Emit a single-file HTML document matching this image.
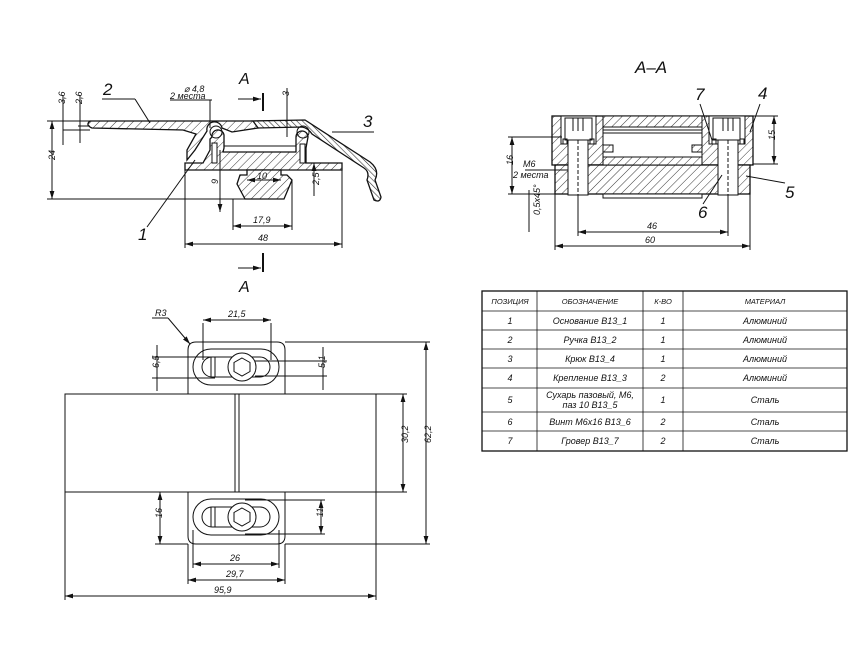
<!DOCTYPE html>
<html><head><meta charset="utf-8"><style>
html,body{margin:0;padding:0;background:#fff}
svg{display:block}
text{font-family:"Liberation Sans",sans-serif;font-style:italic;fill:#111;stroke:none}
</style></head><body>
<svg width="866" height="650" viewBox="0 0 866 650" xmlns="http://www.w3.org/2000/svg">
<defs>
<pattern id="h" width="6" height="6" patternUnits="userSpaceOnUse" patternTransform="rotate(45)"><rect width="6" height="6" fill="#fff"/><line x1="0" y1="0" x2="0" y2="6" stroke="#222" stroke-width="0.9"/></pattern>
<pattern id="h2" width="4" height="4" patternUnits="userSpaceOnUse" patternTransform="rotate(-45)"><rect width="4" height="4" fill="#fff"/><line x1="0" y1="0" x2="0" y2="4" stroke="#333" stroke-width="1.2"/></pattern>
<marker id="a" viewBox="0 0 10 6" refX="10" refY="3" markerWidth="8" markerHeight="5" orient="auto-start-reverse"><path d="M0,0L10,3L0,6z" fill="#111" stroke="none"/></marker>
</defs>
<g stroke="#111" stroke-width="1" fill="none">

<!-- ===== SIDE VIEW ===== -->
<path d="M252,121 L305,120 L370,162 Q380,170 375,180 L381,197 Q380,203 374,200 L367,180 Q370,172 364,168 L312,134 Q308,128 302,127 L258,128 Z" fill="url(#h2)" stroke-width="1.3"/>
<path d="M90,121 L253,121 L258,128 L232,132 L222,128 A7,7 0 0 0 207,131 L195,150 L187,160 L187,150 L196,134 L183,130 L92,128 Q85,125 90,121 Z" fill="url(#h)" stroke-width="1.3"/>
<path d="M185,163 L203,163 L210,150 L210,139 L212,137 A6,6 0 0 1 224,135 L224,148 L223,152 L296,152 L296,137 A6,6 0 0 1 308,137 L306,148 L306,163 L342,163 L342,170 L185,170 Z" fill="url(#h)" stroke-width="1.3"/>
<rect x="212" y="143" width="5" height="20" fill="#fff"/>
<rect x="300" y="144" width="5" height="19" fill="#fff"/>
<circle cx="216" cy="132" r="6"/><circle cx="303" cy="132" r="6"/>
<line x1="224" y1="146" x2="296" y2="146"/>
<path d="M247,170 L281,170 L281,175 L287,175 L292,180 L284,199 L245,199 L237,184 L240,175 L247,175 Z" fill="url(#h)" stroke-width="1.3"/>
<line x1="47" y1="121" x2="90" y2="121"/><line x1="47" y1="199" x2="250" y2="199"/>
<line x1="52" y1="121" x2="52" y2="199" marker-start="url(#a)" marker-end="url(#a)"/>
<text x="50" y="165" font-size="9" transform="rotate(-90 50 160)">24</text>
<line x1="63" y1="130" x2="90" y2="130"/><line x1="78" y1="126" x2="90" y2="126"/>
<line x1="63" y1="95" x2="63" y2="145"/><line x1="80" y1="95" x2="80" y2="143"/>
<text x="61" y="108" font-size="9" transform="rotate(-90 61 104)">3,6</text>
<text x="78" y="108" font-size="9" transform="rotate(-90 78 104)">2,6</text>
<line x1="185" y1="170" x2="185" y2="248"/><line x1="342" y1="170" x2="342" y2="248"/>
<line x1="185" y1="244" x2="342" y2="244" marker-start="url(#a)" marker-end="url(#a)"/>
<text x="258" y="241" font-size="9">48</text>
<line x1="233" y1="199" x2="233" y2="230"/><line x1="292" y1="180" x2="292" y2="230"/>
<line x1="233" y1="226" x2="292" y2="226" marker-start="url(#a)" marker-end="url(#a)"/>
<text x="253" y="223" font-size="9">17,9</text>
<line x1="247" y1="180" x2="281" y2="180" marker-start="url(#a)" marker-end="url(#a)"/>
<text x="257" y="179" font-size="9">10</text>
<line x1="220" y1="150" x2="220" y2="212" marker-end="url(#a)"/>
<text x="214" y="188" font-size="9" transform="rotate(-90 214 184)">9</text>
<line x1="314" y1="163" x2="314" y2="196" marker-start="url(#a)"/>
<text x="312" y="192" font-size="9" transform="rotate(-90 312 185)">2,5</text>
<line x1="287" y1="88" x2="287" y2="137"/>
<text x="285" y="100" font-size="9" transform="rotate(-90 285 96)">3</text>
<line x1="210" y1="100" x2="210" y2="128"/><line x1="170" y1="100" x2="212" y2="100"/>
<text x="184" y="92" font-size="9">⌀ 4,8</text>
<text x="170" y="99" font-size="9">2 места</text>
<line x1="102" y1="99" x2="135" y2="99"/><line x1="135" y1="99" x2="150" y2="123"/>
<text x="103" y="95" font-size="17">2</text>
<line x1="374" y1="132" x2="332" y2="132"/>
<text x="363" y="127" font-size="17">3</text>
<line x1="147" y1="227" x2="195" y2="160"/>
<text x="138" y="240" font-size="17">1</text>
<line x1="263" y1="93" x2="263" y2="111" stroke-width="2"/><line x1="238" y1="99" x2="261" y2="99" marker-end="url(#a)"/>
<text x="239" y="84" font-size="16" font-style="normal">A</text>
<line x1="263" y1="253" x2="263" y2="272" stroke-width="2"/><line x1="238" y1="268" x2="261" y2="268" marker-end="url(#a)"/>
<text x="239" y="292" font-size="16" font-style="normal">A</text>

<!-- ===== SECTION A-A ===== -->
<text x="635" y="73" font-size="17" font-style="normal">A–A</text>
<rect x="552" y="116" width="201" height="49" fill="url(#h)" stroke-width="1.3"/>
<rect x="555" y="165" width="195" height="29" fill="url(#h)" stroke-width="1.3"/>
<rect x="603" y="194" width="99" height="4" fill="#fff"/>
<rect x="603" y="116" width="99" height="49" fill="url(#h)"/>
<path d="M603,127 L702,127 L702,145 L692,145 L692,152 L702,152 L702,157 L603,157 L603,152 L613,152 L613,145 L603,145 Z" fill="#fff"/>
<line x1="603" y1="130" x2="702" y2="130"/><line x1="603" y1="133" x2="702" y2="133"/>
<g fill="#fff">
<rect x="561" y="116" width="35" height="28"/><rect x="709" y="116" width="36" height="28"/>
<rect x="565" y="118" width="27" height="22"/><rect x="713" y="118" width="27" height="22"/>
<rect x="568" y="140" width="20" height="55"/><rect x="718" y="140" width="20" height="55"/>
</g>
<line x1="573" y1="118" x2="573" y2="131"/><line x1="578" y1="118" x2="578" y2="131"/><line x1="583" y1="118" x2="583" y2="131"/>
<line x1="723" y1="118" x2="723" y2="131"/><line x1="728" y1="118" x2="728" y2="131"/><line x1="733" y1="118" x2="733" y2="131"/>
<rect x="563" y="139" width="4" height="5"/><rect x="590" y="139" width="4" height="5"/>
<rect x="712" y="139" width="4" height="5"/><rect x="740" y="139" width="4" height="5"/>
<line x1="578" y1="140" x2="578" y2="198" stroke-dasharray="4,2"/><line x1="728" y1="140" x2="728" y2="198" stroke-dasharray="4,2"/>
<line x1="508" y1="137" x2="562" y2="137"/><line x1="508" y1="194" x2="555" y2="194"/>
<line x1="512" y1="137" x2="512" y2="194" marker-start="url(#a)" marker-end="url(#a)"/>
<text x="508" y="170" font-size="9" transform="rotate(-90 508 165)">16</text>
<line x1="753" y1="116" x2="778" y2="116"/><line x1="753" y1="164" x2="778" y2="164"/>
<line x1="774" y1="116" x2="774" y2="164" marker-start="url(#a)" marker-end="url(#a)"/>
<text x="771" y="144" font-size="9" transform="rotate(-90 771 140)">15</text>
<line x1="525" y1="170" x2="568" y2="170"/>
<text x="523" y="167" font-size="9">M6</text>
<text x="513" y="178" font-size="9">2 места</text>
<line x1="529" y1="190" x2="529" y2="232"/>
<text x="527" y="228" font-size="9" transform="rotate(-90 527 215)">0,5x45°</text>
<line x1="578" y1="198" x2="578" y2="236"/><line x1="728" y1="198" x2="728" y2="236"/>
<line x1="578" y1="232" x2="728" y2="232" marker-start="url(#a)" marker-end="url(#a)"/>
<text x="647" y="229" font-size="9">46</text>
<line x1="555" y1="194" x2="555" y2="250"/><line x1="750" y1="194" x2="750" y2="250"/>
<line x1="555" y1="246" x2="750" y2="246" marker-start="url(#a)" marker-end="url(#a)"/>
<text x="645" y="243" font-size="9">60</text>
<text x="695" y="100" font-size="17">7</text><line x1="700" y1="104" x2="712" y2="140"/>
<text x="758" y="99" font-size="17">4</text><line x1="760" y1="104" x2="750" y2="132"/>
<text x="785" y="198" font-size="17">5</text><line x1="785" y1="183" x2="746" y2="176"/>
<text x="698" y="218" font-size="17">6</text><line x1="703" y1="204" x2="722" y2="175"/>

<!-- ===== TOP VIEW ===== -->
<rect x="65" y="394" width="311" height="98"/>
<line x1="235" y1="394" x2="235" y2="492"/><line x1="239" y1="394" x2="239" y2="492"/>
<path d="M188,394 L188,350 Q188,342 196,342 L277,342 Q285,342 285,350 L285,394"/>
<path d="M188,492 L188,536 Q188,544 196,544 L277,544 Q285,544 285,536 L285,492"/>
<g id="slot">
<rect x="193" y="349" width="86" height="36" rx="18"/>
<rect x="202" y="357" width="68" height="20" rx="10"/>
<line x1="211" y1="357" x2="211" y2="377"/><line x1="215" y1="357" x2="215" y2="377"/>
<circle cx="242" cy="367" r="14" fill="#fff"/>
<path d="M242,358 L250,362.5 L250,371.5 L242,376 L234,371.5 L234,362.5 Z"/>
</g>
<use href="#slot" y="150"/>
<line x1="203" y1="323" x2="203" y2="360"/><line x1="271" y1="323" x2="271" y2="360"/>
<line x1="203" y1="320" x2="271" y2="320" marker-start="url(#a)" marker-end="url(#a)"/>
<text x="228" y="317" font-size="9">21,5</text>
<line x1="152" y1="318" x2="168" y2="318"/><line x1="168" y1="318" x2="190" y2="344" marker-end="url(#a)"/>
<text x="155" y="316" font-size="9">R3</text>
<line x1="152" y1="357" x2="215" y2="357"/><line x1="152" y1="378" x2="215" y2="378"/>
<line x1="157" y1="345" x2="157" y2="391"/>
<text x="155" y="372" font-size="9" transform="rotate(-90 155 368)">6,5</text>
<line x1="255" y1="361" x2="327" y2="361"/><line x1="255" y1="376" x2="327" y2="376"/>
<line x1="323" y1="347" x2="323" y2="390"/>
<text x="321" y="372" font-size="9" transform="rotate(-90 321 368)">5,1</text>
<line x1="285" y1="342" x2="430" y2="342"/><line x1="285" y1="544" x2="430" y2="544"/>
<line x1="426" y1="342" x2="426" y2="544" marker-start="url(#a)" marker-end="url(#a)"/>
<text x="424" y="450" font-size="9" transform="rotate(-90 424 443)">62,2</text>
<line x1="376" y1="394" x2="407" y2="394"/><line x1="376" y1="492" x2="407" y2="492"/>
<line x1="403" y1="394" x2="403" y2="492" marker-start="url(#a)" marker-end="url(#a)"/>
<text x="401" y="450" font-size="9" transform="rotate(-90 401 443)">30,2</text>
<line x1="160" y1="492" x2="160" y2="544" marker-start="url(#a)" marker-end="url(#a)"/>
<line x1="155" y1="544" x2="188" y2="544"/>
<text x="158" y="522" font-size="9" transform="rotate(-90 158 518)">16</text>
<line x1="245" y1="500" x2="325" y2="500"/><line x1="245" y1="534" x2="325" y2="534"/>
<line x1="321" y1="500" x2="321" y2="534" marker-start="url(#a)" marker-end="url(#a)"/>
<text x="319" y="521" font-size="9" transform="rotate(-90 319 517)">11</text>
<line x1="193" y1="530" x2="193" y2="568"/><line x1="279" y1="530" x2="279" y2="568"/>
<line x1="193" y1="564" x2="279" y2="564" marker-start="url(#a)" marker-end="url(#a)"/>
<text x="230" y="561" font-size="9">26</text>
<line x1="188" y1="544" x2="188" y2="584"/><line x1="285" y1="544" x2="285" y2="584"/>
<line x1="188" y1="580" x2="285" y2="580" marker-start="url(#a)" marker-end="url(#a)"/>
<text x="226" y="577" font-size="9">29,7</text>
<line x1="65" y1="492" x2="65" y2="600"/><line x1="376" y1="492" x2="376" y2="600"/>
<line x1="65" y1="596" x2="376" y2="596" marker-start="url(#a)" marker-end="url(#a)"/>
<text x="214" y="593" font-size="9">95,9</text>
</g>

<!-- ===== TABLE ===== -->
<g stroke="#111" fill="none">
<rect x="482" y="291" width="365" height="160" stroke-width="1.3"/>
<g stroke-width="0.8">
<line x1="482" y1="311" x2="847" y2="311"/><line x1="482" y1="330" x2="847" y2="330"/>
<line x1="482" y1="349" x2="847" y2="349"/><line x1="482" y1="368" x2="847" y2="368"/>
<line x1="482" y1="388" x2="847" y2="388"/><line x1="482" y1="412" x2="847" y2="412"/>
<line x1="482" y1="431" x2="847" y2="431"/>
<line x1="537" y1="291" x2="537" y2="451"/><line x1="643" y1="291" x2="643" y2="451"/><line x1="683" y1="291" x2="683" y2="451"/>
</g></g>
<g font-size="9" text-anchor="middle">
<text x="510" y="304" font-size="7.5">ПОЗИЦИЯ</text><text x="590" y="304" font-size="7.5">ОБОЗНАЧЕНИЕ</text><text x="663" y="304" font-size="7.5">К-ВО</text><text x="765" y="304" font-size="7.5">МАТЕРИАЛ</text>
<text x="510" y="324">1</text><text x="590" y="324">Основание B13_1</text><text x="663" y="324">1</text><text x="765" y="324">Алюминий</text>
<text x="510" y="343">2</text><text x="590" y="343">Ручка B13_2</text><text x="663" y="343">1</text><text x="765" y="343">Алюминий</text>
<text x="510" y="362">3</text><text x="590" y="362">Крюк B13_4</text><text x="663" y="362">1</text><text x="765" y="362">Алюминий</text>
<text x="510" y="381">4</text><text x="590" y="381">Крепление B13_3</text><text x="663" y="381">2</text><text x="765" y="381">Алюминий</text>
<text x="510" y="403">5</text><text x="590" y="398">Сухарь пазовый, М6,</text><text x="590" y="408">паз 10 B13_5</text><text x="663" y="403">1</text><text x="765" y="403">Сталь</text>
<text x="510" y="425">6</text><text x="590" y="425">Винт M6x16 B13_6</text><text x="663" y="425">2</text><text x="765" y="425">Сталь</text>
<text x="510" y="444">7</text><text x="590" y="444">Гровер B13_7</text><text x="663" y="444">2</text><text x="765" y="444">Сталь</text>
</g>
</svg>
</body></html>
